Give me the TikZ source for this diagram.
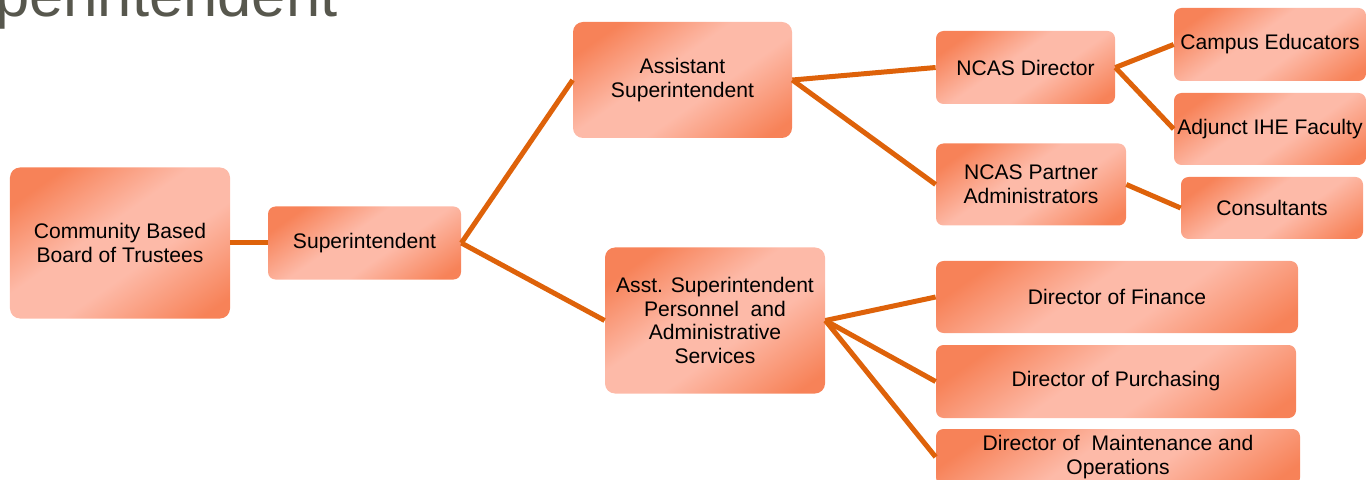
\documentclass[tikz,border=0pt]{standalone}
\usepackage{fontspec}
\setmainfont{Liberation Sans}
\usepackage{xcolor}
\usepackage{tikz}

\definecolor{boxdark}{RGB}{247,130,88}
\definecolor{boxlight}{RGB}{253,186,168}
\definecolor{linkorange}{RGB}{222,98,10}
\definecolor{titlegray}{RGB}{87,87,77}
\pgfdeclarehorizontalshading{boxshade}{100bp}{color(0bp)=(boxdark); color(24bp)=(boxdark); color(44bp)=(boxlight); color(58bp)=(boxlight); color(80bp)=(boxdark); color(100bp)=(boxdark)}

\begin{document}
\begin{tikzpicture}[x=0.2mm,y=-0.2mm,
  box/.style={rounded corners=2mm,shading=boxshade,shading angle=-55,align=center,inner sep=0pt,
    font=\fontsize{12}{13.6}\selectfont},
  link/.style={draw=linkorange,line width=1mm}]
 \useasboundingbox (0,0) rectangle (1367,480);
 \clip (0,0) rectangle (1367,480);
 \node[anchor=base west,text=titlegray,font=\fontsize{35}{40}\selectfont] (title) at (-86,17) {Superintendent};
 % first two levels
 \node[box,minimum width=44mm,minimum height=30.2mm] (board) at (120,243) {Community Based\\Board of Trustees};
 \node[box,minimum width=38.6mm,minimum height=14.6mm,rounded corners=1.5mm] (sup) at (364.5,243) {Superintendent};
 \node[box,minimum width=43.8mm,minimum height=23.2mm] (asst) at (682.5,80) {Assistant\\Superintendent};
 \node[box,minimum width=44mm,minimum height=29.2mm] (pers) at (715,320.5) {Asst. Superintendent\\Personnel\ \ and\\Administrative\\Services};
 % NCAS branch
 \node[box,minimum width=35.8mm,minimum height=14.6mm,rounded corners=1.5mm] (ncas) at (1025.5,67.5) {NCAS Director};
 \node[box,minimum width=38mm,minimum height=16.4mm,rounded corners=1.5mm] (partner) at (1031,184.5) {NCAS Partner\\Administrators};
 \node[box,minimum width=38.4mm,minimum height=14.6mm,rounded corners=1.5mm] (campus) at (1270,44.5) {Campus Educators};
 \node[box,minimum width=38.4mm,minimum height=14.4mm,rounded corners=1.5mm] (adjunct) at (1270,129) {Adjunct IHE Faculty};
 \node[box,minimum width=36.4mm,minimum height=12.4mm,rounded corners=1.5mm] (consult) at (1272,208) {Consultants};
 % services branch
 \node[box,minimum width=72.4mm,minimum height=14.4mm,rounded corners=1.5mm] (finance) at (1117,297) {Director of Finance};
 \node[box,minimum width=72mm,minimum height=14.6mm,rounded corners=1.5mm] (purch) at (1116,381.5) {Director of Purchasing};
 \node[box,minimum width=72.8mm,minimum height=11.2mm,rounded corners=1.5mm] (maint) at (1118,457) {Director of\ \ Maintenance and\\Operations};

 \draw[link] (board.east) -- (sup.west);
 \draw[link] (sup.east) -- (asst.west);
 \draw[link] (sup.east) -- (pers.west);
 \draw[link] (asst.east) -- (ncas.west);
 \draw[link] (asst.east) -- (partner.west);
 \draw[link] (ncas.east) -- (campus.west);
 \draw[link] (ncas.east) -- (adjunct.west);
 \draw[link] (partner.east) -- (consult.west);
 \draw[link] (pers.east) -- (finance.west);
 \draw[link] (pers.east) -- (purch.west);
 \draw[link] (pers.east) -- (maint.west);
\end{tikzpicture}
\end{document}
